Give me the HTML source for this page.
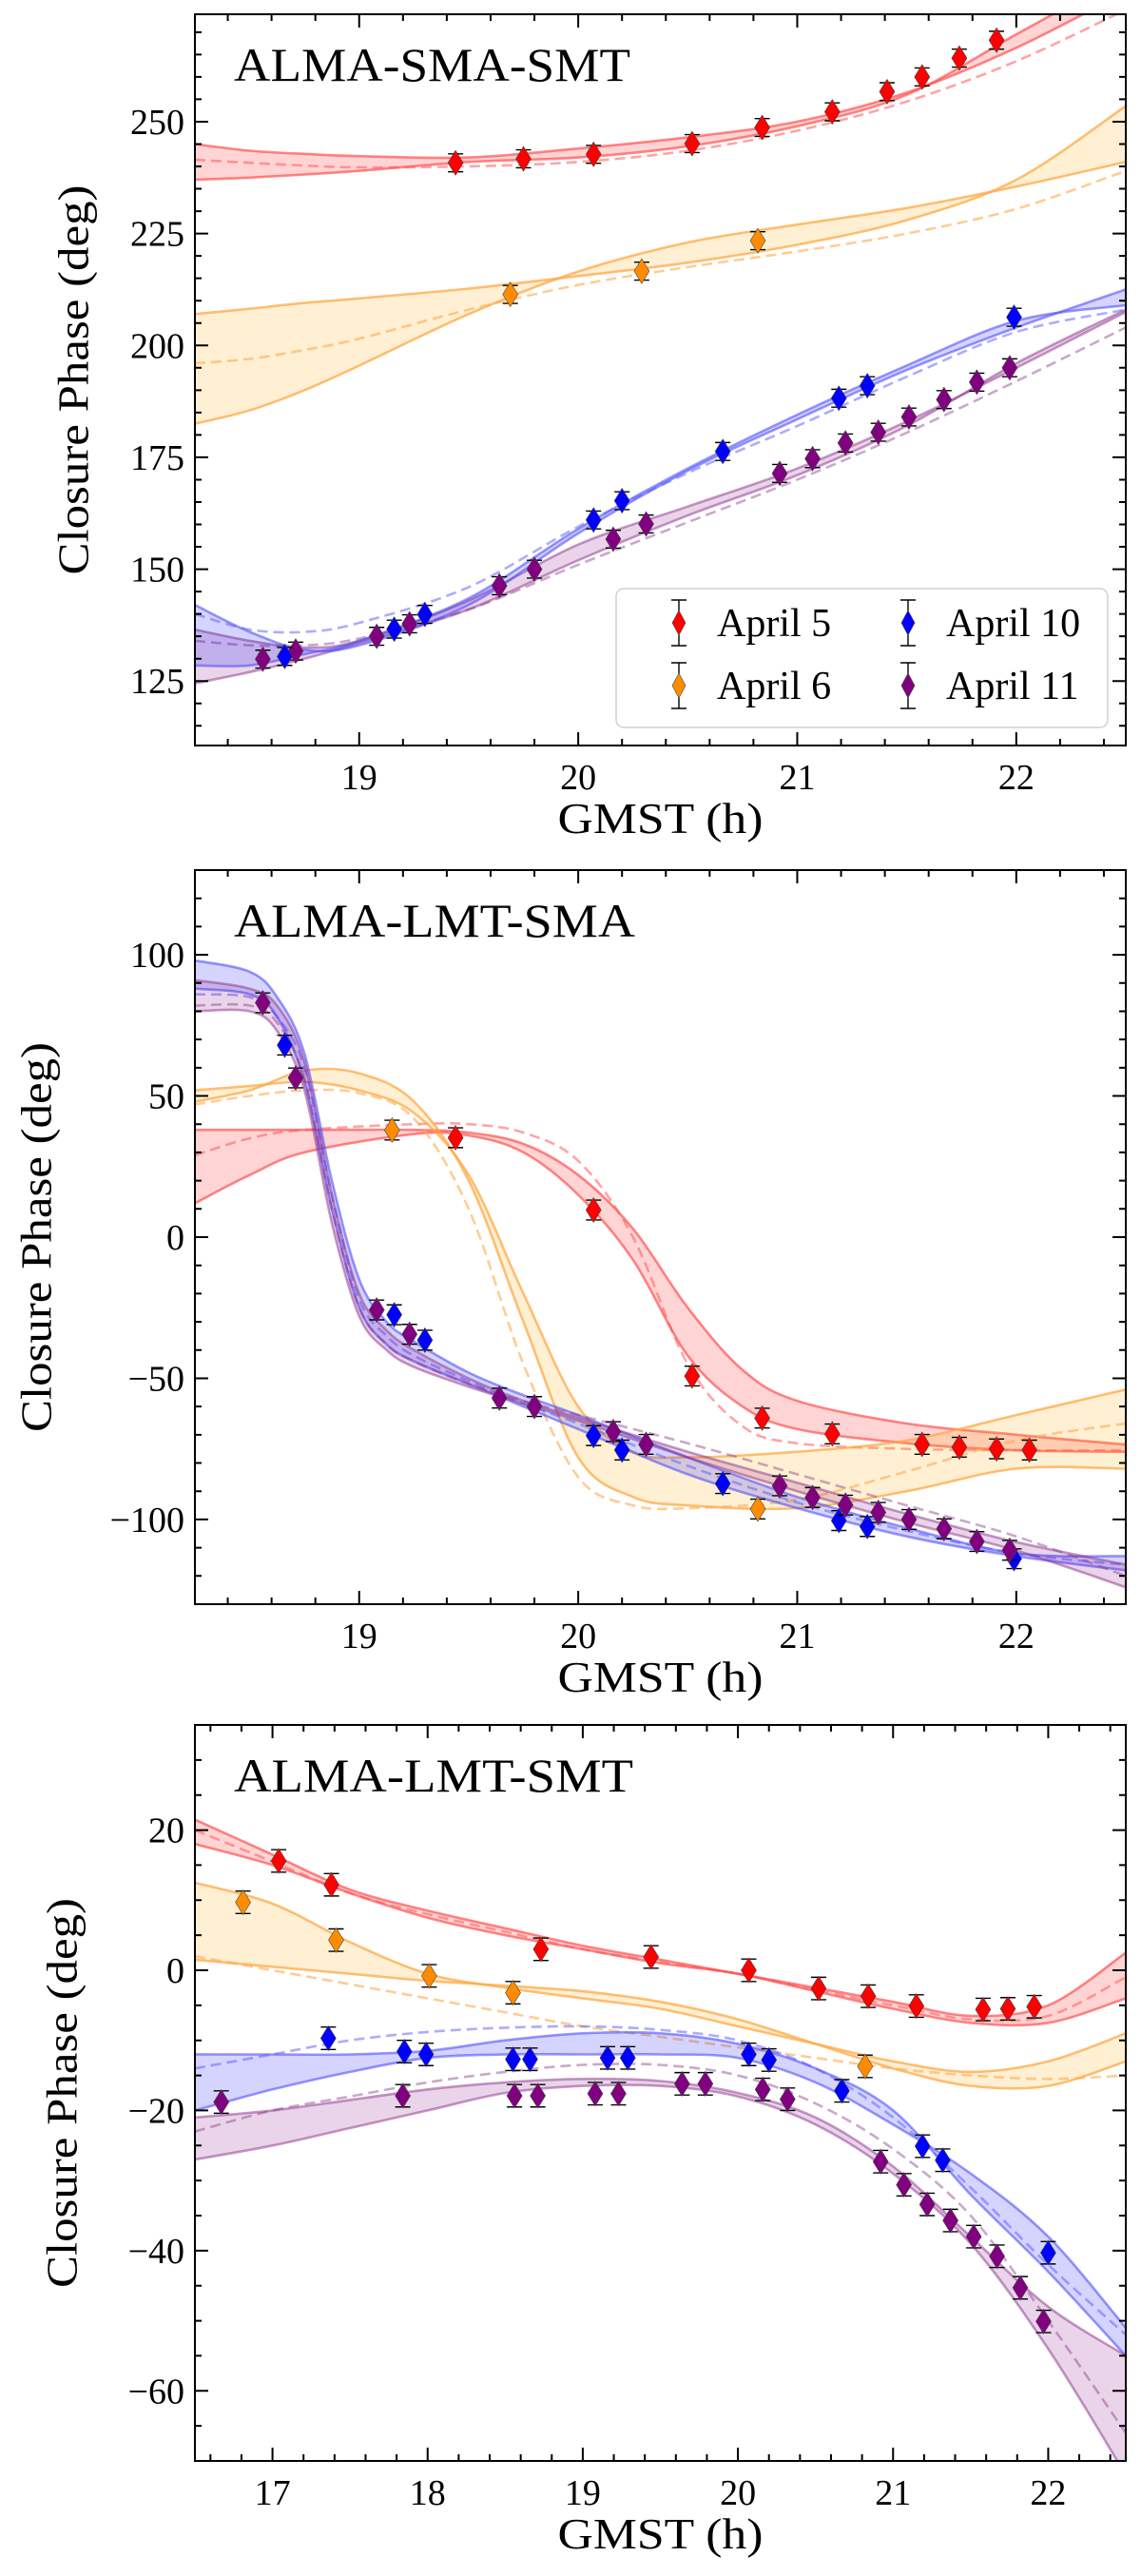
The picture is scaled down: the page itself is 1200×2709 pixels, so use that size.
<!DOCTYPE html>
<html><head><meta charset="utf-8"><style>
html,body{margin:0;padding:0;background:#fff;}
svg{display:block;font-family:"Liberation Serif","DejaVu Serif",serif;}
</style></head><body>
<svg id="fig" width="1200" height="2709" viewBox="0 0 1200 2709" xmlns="http://www.w3.org/2000/svg"></svg>
<script>
// ---------- Panel 1: ALMA-SMA-SMT ----------
const p1X = [18.25,18.5,18.75,19,19.5,20,20.5,21,21.5,22,22.5];
const p1RedA = [245,243.5,242.8,242.3,242,244,246.5,250,256.5,266.5,279];
const p1RedB = [237,237.5,238.2,239,241,242,244.5,249,256,269.5,283];
const p1RedD = [241.5,240.8,240.2,239.8,240,241,243.5,248,254.5,263.5,275];
const p1OrangeA = [207,208.2,209.5,210.5,212.7,215.5,218.5,222.5,228,237,253.5];
const p1OrangeB = [182.5,185.5,190,195.5,207,216.5,223,227,230.7,235.5,241];
const p1OrangeD = [196,197,199,201.5,208,213.5,217.5,221,225,230.5,239];
const p1BlueA = [142,136,132,133,142,158,172,183.5,194.5,204,212.5];
const p1BlueB = [128.5,128.5,131,134,143.5,159,172.5,184.5,195.5,205.5,209];
const p1BlueD = [140,136.5,136,138,146,159.5,171.5,182,193,203,208];
const p1PurpleA = [136.5,134,132.5,134,143,155.5,164,172.5,183,195,207.5];
const p1PurpleB = [124.5,127,130,133.5,141,152,162,171,182,196,208];
const p1PurpleD = [134,133,133,134.5,141,151,160.5,170,180.5,192,204];
const p1RedPx = [19.44,19.75,20.07,20.52,20.84,21.16,21.41,21.57,21.74,21.91];
const p1RedPy = [240.8,241.7,242.7,245.1,248.7,252.2,256.7,260.0,264.2,268.2];
const p1OrangePx = [19.69,20.29,20.82];
const p1OrangePy = [211.4,216.6,223.4];
const p1BluePx = [18.66,19.16,19.30,20.07,20.20,20.66,21.19,21.32,21.99];
const p1BluePy = [130.5,136.6,139.9,161.0,165.3,176.3,188.2,191.0,206.3];
const p1PurplePx = [18.56,18.71,19.08,19.23,19.64,19.80,20.16,20.31,20.92,21.07,21.22,21.37,21.51,21.67,21.82,21.97];
const p1PurplePy = [129.9,131.7,135.0,137.8,146.3,150.0,156.7,160.1,171.4,174.7,178.2,180.6,184.0,187.9,191.8,195.0];
const p1YTicks = [125,150,175,200,225,250];
const p1XTicks = [19,20,21,22];

// ---------- Panel 2: ALMA-LMT-SMA ----------
const p2RedX = [18.25,18.5,18.75,19.25,19.5,19.75,20,20.25,20.5,20.75,21,21.5,22,22.5];
const p2RedA = [38,38,38,38,37,33,22,3,-25,-47,-58,-66,-70,-73.5];
const p2RedB = [12,22,30,36.5,36,30,15,-8,-42,-60,-68,-73,-75.5,-76];
const p2RedD = [29,35,38,40,40,37,27,0,-45,-67,-73,-75,-75.5,-75.5];
const p2OrangeX = [18.25,18.5,18.75,19,19.25,19.5,19.75,20,20.25,20.5,21,21.5,22,22.5];
const p2OrangeA = [52,53.5,55,52,44,22,-20,-60,-76,-78,-76,-72,-63,-54];
const p2OrangeB = [48,52,59,58,48,20,-30,-78,-92,-95,-96,-90,-82,-82];
const p2OrangeD = [47,50,52,51,42,10,-45,-85,-95,-96,-93,-83,-72,-66];
const p2BPX = [18.25,18.5,18.625,18.75,18.875,19,19.125,19.25,19.5,19.75,20,20.5,21,21.5,22,22.5];
const p2BlueA = [98,94,85,65,20,-15,-30,-37,-48,-56,-63,-78,-92,-103,-112,-113];
const p2BlueB = [88,86,78,55,10,-25,-38,-44,-52,-60,-68,-84,-96,-106,-113,-118];
const p2BlueD = [86,85,78,60,15,-22,-35,-42,-51,-59,-66,-81,-94,-104,-112,-116];
const p2PurpleA = [91,88,82,62,15,-20,-33,-40,-50,-58,-64,-76,-87,-98,-108,-116];
const p2PurpleB = [80,80,73,52,5,-28,-40,-46,-53,-59,-65,-78,-90,-101,-111,-124];
const p2PurpleD = [82,82,76,56,10,-25,-38,-44,-52,-58,-63,-73,-84,-95,-106,-120];
const p2RedPx = [19.44,20.07,20.52,20.84,21.16,21.57,21.74,21.91,22.06];
const p2RedPy = [35.2,9.6,-49.2,-64.1,-69.7,-73.4,-74.4,-75.0,-75.4];
const p2OrangePx = [19.15,20.82];
const p2OrangePy = [37.9,-96.3];
const p2BluePx = [18.66,19.16,19.30,20.07,20.20,20.66,21.19,21.32,21.99];
const p2BluePy = [68.0,-27.5,-36.5,-70.3,-75.4,-87.3,-100.4,-102.5,-113.9];
const p2PurplePx = [18.56,18.71,19.08,19.23,19.64,19.80,20.16,20.31,20.92,21.07,21.22,21.37,21.51,21.67,21.82,21.97];
const p2PurplePy = [83.0,56.4,-25.8,-34.4,-57.0,-60.0,-68.9,-73.4,-88.1,-92.2,-94.9,-97.5,-100.0,-103.3,-107.8,-110.9];
const p2YTicks = [-100,-50,0,50,100];
const p2XTicks = [19,20,21,22];

// ---------- Panel 3: ALMA-LMT-SMT ----------
const p3X = [16.5,17,17.5,18,18.5,19,19.5,20,20.5,21,21.5,22,22.5];
const p3RedA = [21.5,16.5,11.5,8.5,6,3.5,1.5,-0.5,-2.5,-4.5,-6.5,-5,2.5];
const p3RedB = [18,15,11,7.5,5,3,1,-0.5,-3,-5.5,-7.5,-7.5,-4];
const p3RedD = [20,15.5,11,8,5.5,3,1.2,-0.5,-2.8,-5,-7,-6.5,-1];
const p3OrangeA = [12.5,9.5,4,-0.5,-2.5,-4,-5.5,-8,-10.5,-13,-14.5,-13,-9];
const p3OrangeB = [1.5,0.5,-0.5,-1.5,-2.2,-3,-4.5,-7,-10.5,-14,-16.5,-16.5,-13];
const p3OrangeD = [2,0,-2,-4,-6,-8,-9.5,-11,-12.5,-14,-15,-15.5,-15];
const p3BlueA = [-12,-12,-12,-11.5,-10,-9,-9,-10.5,-14,-20,-32,-43,-55];
const p3BlueB = [-20,-17,-14.5,-12.5,-12,-12,-12,-12.5,-16,-22,-29,-38,-51];
const p3BlueD = [-14,-12,-10,-8.8,-8.2,-8,-8.5,-10,-14,-21,-31,-42,-52];
const p3PurpleA = [-21,-20,-18.5,-17,-16,-15.5,-15.8,-17.5,-21,-28,-38,-48,-55];
const p3PurpleB = [-27,-25,-22.5,-20,-17.5,-16.5,-16.5,-18,-22,-29,-39,-54,-72];
const p3PurpleD = [-23,-20,-18,-16,-14.5,-13.5,-13.5,-15,-19,-25.5,-35,-50,-66];
const p3RedPx = [17.04,17.38,18.73,19.44,20.07,20.52,20.84,21.15,21.58,21.74,21.91];
const p3RedPy = [15.6,12.2,3.0,1.9,0.0,-2.6,-3.7,-5.1,-5.6,-5.5,-5.2];
const p3OrangePx = [16.81,17.41,18.01,18.55,20.82];
const p3OrangePy = [9.7,4.3,-0.8,-3.2,-13.7];
const p3BluePx = [17.36,17.85,17.99,18.55,18.66,19.16,19.29,20.07,20.20,20.67,21.19,21.32,22.00];
const p3BluePy = [-9.7,-11.6,-12.0,-12.7,-12.7,-12.5,-12.5,-12.0,-12.8,-17.2,-25.1,-27.1,-40.3];
const p3PurplePx = [16.67,17.84,18.56,18.71,19.08,19.23,19.64,19.79,20.16,20.32,20.92,21.07,21.22,21.37,21.52,21.67,21.82,21.97];
const p3PurplePy = [-18.8,-17.9,-17.9,-17.9,-17.6,-17.6,-16.2,-16.2,-17.0,-18.4,-27.3,-30.6,-33.4,-35.7,-38.0,-40.8,-45.3,-50.1];
const p3YTicks = [-60,-40,-20,0,20];
const p3XTicks = [17,18,19,20,21,22];

const legendLabels = ["April 5","April 6","April 10","April 11"];

const NS = "http://www.w3.org/2000/svg";
const svg = document.getElementById("fig");
const COL = {
  red:{m:"#ff0000",l:"rgba(255,70,70,0.65)",f:"rgba(255,0,0,0.17)",d:"rgba(255,90,90,0.55)"},
  orange:{m:"#ff8c00",l:"rgba(255,170,70,0.75)",f:"rgba(255,165,0,0.17)",d:"rgba(255,170,80,0.6)"},
  blue:{m:"#0000ff",l:"rgba(80,80,255,0.6)",f:"rgba(0,0,255,0.17)",d:"rgba(90,90,255,0.5)"},
  purple:{m:"#800080",l:"rgba(140,50,140,0.5)",f:"rgba(128,0,128,0.17)",d:"rgba(140,60,140,0.45)"}
};
function mk(tag, attrs, parent){
  const e = document.createElementNS(NS, tag);
  for (const k in attrs) e.setAttribute(k, attrs[k]);
  (parent||svg).appendChild(e);
  return e;
}
function smooth(pts){
  let d = "";
  for (let i=0;i<pts.length-1;i++){
    const p0=pts[Math.max(0,i-1)], p1=pts[i], p2=pts[i+1], p3=pts[Math.min(pts.length-1,i+2)];
    const c1=[p1[0]+(p2[0]-p0[0])/6, p1[1]+(p2[1]-p0[1])/6];
    const c2=[p2[0]-(p3[0]-p1[0])/6, p2[1]-(p3[1]-p1[1])/6];
    d += " C"+c1[0].toFixed(1)+","+c1[1].toFixed(1)+" "+c2[0].toFixed(1)+","+c2[1].toFixed(1)+" "+p2[0].toFixed(1)+","+p2[1].toFixed(1);
  }
  return d;
}
function panel(cfg, idx){
  const {x0,x1,y0,y1,L,R,T,B} = cfg;
  const sx = v => L + (v-x0)/(x1-x0)*(R-L);
  const sy = v => B - (v-y0)/(y1-y0)*(B-T);
  const g = mk("g",{});
  
  
  const clip = mk("clipPath",{id:"clip"+idx}, g);
  mk("rect",{x:L,y:T,width:R-L,height:B-T}, clip);
  const plot = mk("g",{"clip-path":"url(#clip"+idx+")"}, g);
  
  
  cfg.series.forEach(s=>{
    const c = COL[s.c];
    const pa = s.x.map((v,i)=>[sx(v),sy(s.a[i])]);
    const pb = s.x.map((v,i)=>[sx(v),sy(s.b[i])]).reverse();
    const fill = mk("path",{d:"M"+pa[0][0]+","+pa[0][1]+smooth(pa)+" L"+pb[0][0]+","+pb[0][1]+smooth(pb)+" Z",fill:c.f,stroke:"none"}, plot);
    
    
    [pa,pb].forEach(p=>{
      const ln = mk("path",{d:"M"+p[0][0]+","+p[0][1]+smooth(p),fill:"none",stroke:c.l,"stroke-width":2.6}, plot);
      
      
    });
    const pd = s.x.map((v,i)=>[sx(v),sy(s.d[i])]);
    const dl = mk("path",{d:"M"+pd[0][0]+","+pd[0][1]+smooth(pd),fill:"none",stroke:c.d,"stroke-width":2.6,"stroke-dasharray":"11 6"}, plot);
    
    
  });
  cfg.series.forEach(s=>{
    const c = COL[s.c];
    s.px.forEach((v,i)=>{
      const X=sx(v), Y=sy(s.py[i]), e=cfg.err*(B-T)/(y1-y0);
      const eb = mk("path",{d:`M${X},${Y-e} V${Y+e} M${X-8},${Y-e} H${X+8} M${X-8},${Y+e} H${X+8}`,stroke:"#000","stroke-width":1.4,fill:"none"}, plot);
      
      
      const dm = mk("path",{d:`M${X},${Y-13} L${X+8},${Y} L${X},${Y+13} L${X-8},${Y} Z`,fill:c.m,stroke:"#444","stroke-width":0.6}, plot);
      
      
    });
  });
  const fr = mk("rect",{x:L,y:T,width:R-L,height:B-T,fill:"none",stroke:"#000","stroke-width":2}, g);
  
  
  let td = "";
  for (let v=Math.ceil(x0/0.2)*0.2; v<=x1+1e-6; v+=0.2){
    const X=sx(v); const major=Math.abs(v-Math.round(v))<1e-6; const len=major?14:7;
    td += `M${X},${B} V${B-len} M${X},${T} V${T+len} `;
  }
  for (let v=Math.ceil(y0/cfg.minor)*cfg.minor; v<=y1+1e-6; v+=cfg.minor){
    const Y=sy(v); const major=Math.abs(v/cfg.major-Math.round(v/cfg.major))<1e-6; const len=major?14:7;
    td += `M${L},${Y} H${L+len} M${R},${Y} H${R-len} `;
  }
  const tk = mk("path",{d:td,stroke:"#000","stroke-width":2,fill:"none"}, g);
  
  
  cfg.xt.forEach(v=>{
    const t = mk("text",{x:sx(v),y:B+46,"font-size":38,"text-anchor":"middle"}, g);
    t.textContent = String(v);
    
    
  });
  cfg.yt.forEach(v=>{
    const t = mk("text",{x:L-11,y:sy(v)+13,"font-size":38,"text-anchor":"end"}, g);
    t.textContent = v<0 ? "\u2212"+Math.abs(v) : String(v);
    
    
  });
  const xt = mk("text",{x:(L+R)/2,y:B+92,"font-size":46,"text-anchor":"middle",textLength:216,lengthAdjust:"spacingAndGlyphs"}, g);
  xt.textContent = "GMST (h)";
  
  
  const yc = (T+B)/2;
  const yt = mk("text",{x:cfg.ytx,y:yc,"font-size":46,"text-anchor":"middle",textLength:410,lengthAdjust:"spacingAndGlyphs",transform:`rotate(-90 ${cfg.ytx} ${yc})`,"dominant-baseline":"central"}, g);
  yt.textContent = "Closure Phase (deg)";
  
  
  const ti = mk("text",{x:246,y:T+70,"font-size":50,textLength:cfg.tw,lengthAdjust:"spacingAndGlyphs"}, g);
  ti.textContent = cfg.name;
  
  
  return {sx,sy,g};
}

panel({name:"ALMA-SMA-SMT",x0:18.25,x1:22.5,y0:110.6,y1:274,L:205,R:1184,T:15,B:784,minor:5,major:25,err:2,xt:p1XTicks,yt:p1YTicks,ytx:77,tw:417,
  series:[
    {c:"orange",x:p1X,a:p1OrangeA,b:p1OrangeB,d:p1OrangeD,px:p1OrangePx,py:p1OrangePy},
    {c:"red",x:p1X,a:p1RedA,b:p1RedB,d:p1RedD,px:p1RedPx,py:p1RedPy},
    {c:"purple",x:p1X,a:p1PurpleA,b:p1PurpleB,d:p1PurpleD,px:p1PurplePx,py:p1PurplePy},
    {c:"blue",x:p1X,a:p1BlueA,b:p1BlueB,d:p1BlueD,px:p1BluePx,py:p1BluePy}
  ]},1);
panel({name:"ALMA-LMT-SMA",x0:18.25,x1:22.5,y0:-130,y1:130,L:205,R:1184,T:915,B:1687,minor:10,major:50,err:3.5,xt:p2XTicks,yt:p2YTicks,ytx:38,tw:422,
  series:[
    {c:"red",x:p2RedX,a:p2RedA,b:p2RedB,d:p2RedD,px:p2RedPx,py:p2RedPy},
    {c:"orange",x:p2OrangeX,a:p2OrangeA,b:p2OrangeB,d:p2OrangeD,px:p2OrangePx,py:p2OrangePy},
    {c:"blue",x:p2BPX,a:p2BlueA,b:p2BlueB,d:p2BlueD,px:p2BluePx,py:p2BluePy},
    {c:"purple",x:p2BPX,a:p2PurpleA,b:p2PurpleB,d:p2PurpleD,px:p2PurplePx,py:p2PurplePy}
  ]},2);
panel({name:"ALMA-LMT-SMT",x0:16.5,x1:22.5,y0:-70,y1:35,L:205,R:1184,T:1814,B:2588,minor:5,major:20,err:1.6,xt:p3XTicks,yt:p3YTicks,ytx:65,tw:420,
  series:[
    {c:"red",x:p3X,a:p3RedA,b:p3RedB,d:p3RedD,px:p3RedPx,py:p3RedPy},
    {c:"orange",x:p3X,a:p3OrangeA,b:p3OrangeB,d:p3OrangeD,px:p3OrangePx,py:p3OrangePy},
    {c:"blue",x:p3X,a:p3BlueA,b:p3BlueB,d:p3BlueD,px:p3BluePx,py:p3BluePy},
    {c:"purple",x:p3X,a:p3PurpleA,b:p3PurpleB,d:p3PurpleD,px:p3PurplePx,py:p3PurplePy}
  ]},3);

const lg = mk("g",{});


const lbox = mk("rect",{x:648,y:619,width:517,height:146,rx:8,fill:"rgba(255,255,255,0.85)",stroke:"#d0d0d0","stroke-width":1.5}, lg);


const legCols = ["red","orange","blue","purple"];
const legPos = [[714,655],[714,721],[955,655],[955,721]];
legendLabels.forEach((lab,i)=>{
  const [X,Y] = legPos[i];
  const ent = mk("g",{}, lg);
  
  
  mk("path",{d:`M${X},${Y-24} V${Y+24} M${X-8},${Y-24} H${X+8} M${X-8},${Y+24} H${X+8}`,stroke:"#000","stroke-width":1.4,fill:"none"}, ent);
  mk("path",{d:`M${X},${Y-13} L${X+7},${Y} L${X},${Y+13} L${X-7},${Y} Z`,fill:COL[legCols[i]].m,stroke:"#444","stroke-width":0.6}, ent);
  const t = mk("text",{x:X+40,y:Y+14,"font-size":42}, ent);
  t.textContent = lab;
});
</script>
</body></html>
